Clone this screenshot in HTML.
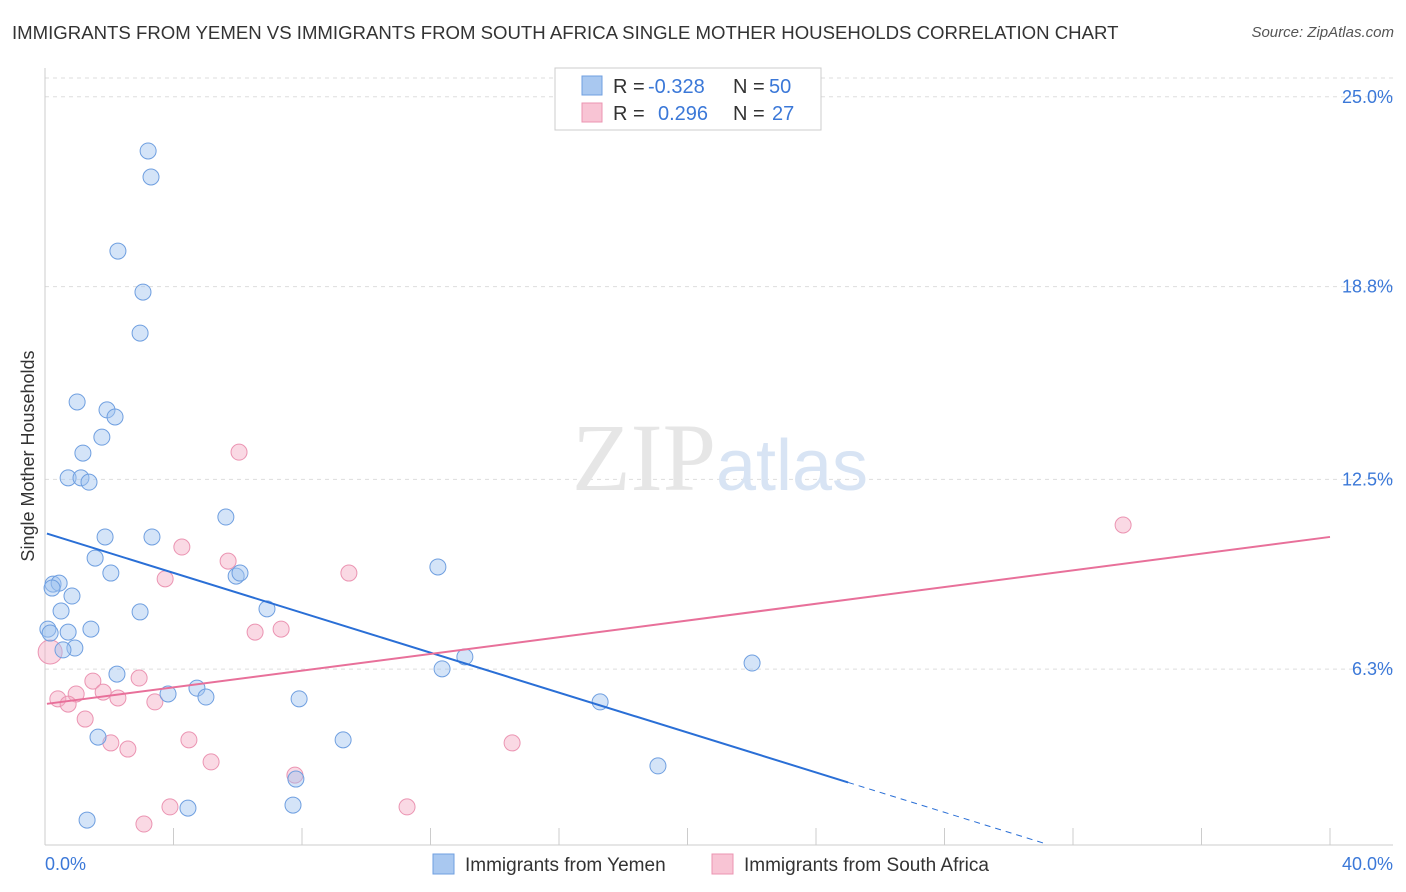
<!DOCTYPE html>
<html><head><meta charset="utf-8">
<style>
body{margin:0;background:#fff;font-family:"Liberation Sans",sans-serif;}
#wrap{position:relative;width:1406px;height:892px;overflow:hidden;}
.t{position:absolute;white-space:nowrap;}
</style></head>
<body>
<div id="wrap">
<div class="t" style="left:12px;top:22px;font-size:18.6px;color:#333;">IMMIGRANTS FROM YEMEN VS IMMIGRANTS FROM SOUTH AFRICA SINGLE MOTHER HOUSEHOLDS CORRELATION CHART</div>
<div class="t" style="right:12px;top:24px;font-size:15px;color:#555;font-style:italic;">Source: ZipAtlas.com</div>
<svg id="chart" width="1406" height="892" style="position:absolute;left:0;top:0"></svg>
</div>
<script>
const yemenX=[3.21,3.30,2.27,3.05,2.96,1.00,1.93,2.18,1.77,1.18,0.72,1.12,1.37,5.63,1.87,3.33,1.56,12.23,2.05,5.95,6.07,0.25,0.44,0.22,0.84,0.50,2.96,6.91,0.09,1.43,0.72,0.16,0.93,0.56,13.07,22.01,12.36,2.24,4.73,3.83,5.01,7.91,17.28,1.65,9.28,19.08,7.81,7.72,4.45,1.31];
const yemenY=[23.23,22.38,19.96,18.62,17.28,15.03,14.77,14.54,13.88,13.36,12.55,12.55,12.41,11.27,10.62,10.62,9.93,9.64,9.44,9.34,9.44,9.08,9.11,8.95,8.69,8.20,8.17,8.27,7.61,7.61,7.51,7.48,6.99,6.93,6.70,6.50,6.31,6.14,5.68,5.49,5.39,5.33,5.23,4.08,3.99,3.14,2.71,1.86,1.76,1.37];
const saX=[6.04,33.56,4.26,5.70,3.74,9.46,6.54,7.35,0.16,1.49,2.93,0.97,1.81,2.27,0.40,0.72,3.42,1.25,2.05,2.58,4.48,14.54,5.17,7.78,3.89,11.27,3.08];
const saY=[13.39,11.01,10.29,9.83,9.25,9.44,7.51,7.61,6.86,5.91,6.01,5.49,5.55,5.36,5.33,5.16,5.23,4.67,3.89,3.69,3.99,3.89,3.27,2.84,1.80,1.80,1.24];
const yTicks=[25.0,18.8,12.5,6.3];
const yTickLabels=["25.0%","18.8%","12.5%","6.3%"];
const xTickLabels=["0.0%","40.0%"];
const yemenTrend=[10.75,-0.326];
const saTrend=[5.16,0.1365];

const NS="http://www.w3.org/2000/svg";
const svg=document.getElementById('chart');
const X=v=>45+v/40*1285;
const Y=v=>862-v/6.25*191.3;
function mk(tag,attrs,parent){const e=document.createElementNS(NS,tag);for(const k in attrs)e.setAttribute(k,attrs[k]);(parent||svg).appendChild(e);return e;}

yTicks.forEach((t,i)=>{
 const g=mk('line',{x1:45,x2:1393,y1:Y(t),y2:Y(t),stroke:'#ddd','stroke-dasharray':'4,4'});
 
 
 const tx=mk('text',{x:1393,y:Y(t)+6,'text-anchor':'end','font-size':18,fill:'#3b78d8','font-family':'Liberation Sans, sans-serif'});
 tx.textContent=yTickLabels[i];
 
 
});
const topGrid=mk('line',{x1:45,x2:1393,y1:78,y2:78,stroke:'#ddd','stroke-dasharray':'4,4'});


const ya=mk('line',{x1:45,x2:45,y1:68,y2:845,stroke:'#ccc'});


const xa=mk('line',{x1:45,x2:1393,y1:845,y2:845,stroke:'#ccc'});


for(let i=0;i<=10;i++){const tk=mk('line',{x1:X(i*4),x2:X(i*4),y1:828,y2:845,stroke:'#ccc'});
 
 }
[[0,'start',45],[1,'end',1393]].forEach(([i,a,x])=>{const t=mk('text',{x:x,y:870,'text-anchor':a,'font-size':18,fill:'#3b78d8','font-family':'Liberation Sans, sans-serif'});t.textContent=xTickLabels[i];
 
 });
const yt=mk('text',{x:34,y:456,'text-anchor':'middle','font-size':18,fill:'#333',transform:'rotate(-90 34 456)','font-family':'Liberation Sans, sans-serif'});
yt.textContent='Single Mother Households';


const wm=mk('text',{x:720,y:490,'text-anchor':'middle','font-size':96,fill:'#e6e6e6','font-family':'Liberation Serif, serif'});
wm.innerHTML='ZIP<tspan fill="#d8e4f4" font-family="Liberation Sans, sans-serif" font-size="72">atlas</tspan>';



saX.forEach((v,i)=>{const c=mk('circle',{cx:X(v),cy:Y(saY[i]),r:i==8?12:8,fill:'rgba(244,170,196,0.45)',stroke:'#eb94b2','stroke-width':1});
 
 });
yemenX.forEach((v,i)=>{const c=mk('circle',{cx:X(v),cy:Y(yemenY[i]),r:8,fill:'rgba(160,196,240,0.45)',stroke:'#6f9fe0','stroke-width':1});
 
 });

const ty=x=>yemenTrend[0]+yemenTrend[1]*x;
const l1=mk('line',{x1:X(0.06),y1:Y(ty(0.06)),x2:X(25),y2:Y(ty(25)),stroke:'#2a6fd6','stroke-width':2});


const l1d=mk('line',{x1:X(25),y1:Y(ty(25)),x2:X(31.1),y2:Y(ty(31.1)),stroke:'#2a6fd6','stroke-width':1,'stroke-dasharray':'6,5'});


const ts=x=>saTrend[0]+saTrend[1]*x;
const l2=mk('line',{x1:X(0.06),y1:Y(ts(0.06)),x2:X(40),y2:Y(ts(40)),stroke:'#e8709a','stroke-width':2});



const lb=mk('rect',{x:555,y:68,width:266,height:62,fill:'#fff',stroke:'#ccc'});


[[0,'#a9c8f0','#6f9fe0','-0.328','50'],[1,'#f8c4d4','#eb94b2','0.296','27']].forEach(([i,f,s,r,n])=>{
 const y=85+i*27;
 const sw=mk('rect',{x:582,y:y-9,width:20,height:19,fill:f,stroke:s});
 
 
 const t=mk('text',{x:613,y:y+8,'font-size':20,fill:'#333','font-family':'Liberation Sans, sans-serif'});
 t.innerHTML='R = <tspan fill="#3b78d8" x="'+(i?658:648)+'">'+r+'</tspan><tspan x="733">N = </tspan><tspan fill="#3b78d8" x="'+(i?772:769)+'">'+n+'</tspan>';
 
 
});
[[433,'#a9c8f0','#6f9fe0','Immigrants from Yemen'],[712,'#f8c4d4','#eb94b2','Immigrants from South Africa']].forEach(([x,f,s,l])=>{
 const r=mk('rect',{x:x,y:854,width:21,height:20,fill:f,stroke:s});
 
 
 const t=mk('text',{x:x+32,y:871,'font-size':19,fill:'#333','font-family':'Liberation Sans, sans-serif'});
 t.textContent=l;
 
 
});
</script>
</body></html>
